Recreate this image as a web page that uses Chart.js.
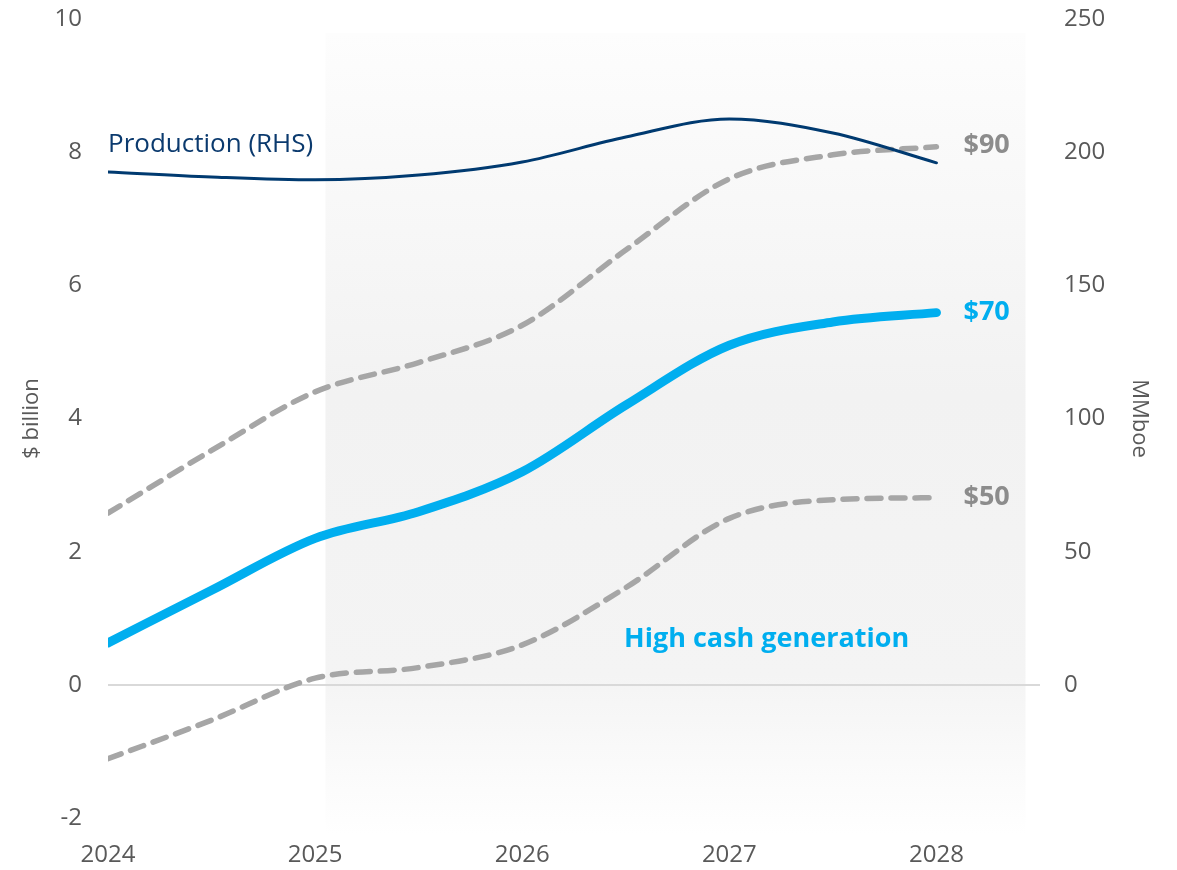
<!DOCTYPE html>
<html>
<head>
<meta charset="utf-8">
<script src="https://cdn.jsdelivr.net/npm/chart.js@4/dist/chart.umd.min.js"></script>
<style>
  html, body { margin: 0; padding: 0; background: #ffffff; }
  #wrap { width: 1177px; height: 870px; position: relative; }
</style>
</head>
<body>
<div id="wrap"><canvas id="c" width="1177" height="870"></canvas></div>
<script>
// ---- data ----
const years = [2024, 2024.5, 2025, 2025.5, 2026, 2026.5, 2027, 2027.5, 2028];
const cash90 = [2.58, 3.52, 4.40, 4.84, 5.40, 6.53, 7.60, 7.96, 8.08];
const cash70 = [0.63, 1.42, 2.20, 2.60, 3.20, 4.20, 5.10, 5.45, 5.59];
const cash50 = [-1.11, -0.53, 0.10, 0.26, 0.60, 1.46, 2.50, 2.78, 2.81];
const production = [192.6, 190.7, 189.6, 191.4, 196.3, 205.7, 212.5, 207.2, 196.0];
const xTicks = [2024, 2025, 2026, 2027, 2028];
const leftTicks = [-2, 0, 2, 4, 6, 8, 10];
const rightTicks = [0, 50, 100, 150, 200, 250];
const seriesLabels = ['$90', '$70', '$50'];
const noteText = 'High cash generation';
const productionLabel = 'Production (RHS)';

const FONT = "'Open Sans', 'Noto Sans', sans-serif";
const TICK = '#595959';

function pts(ys) { return years.map((x, i) => ({ x: x, y: ys[i] })); }

const shadePlugin = {
  id: 'shade',
  beforeDraw(chart) {
    const { ctx, scales } = chart;
    const x0 = scales.x.getPixelForValue(2025.05);
    const x1 = scales.x.getPixelForValue(2028.43);
    const y0 = 33, y1 = 835;
    const g = ctx.createLinearGradient(0, y0, 0, y1);
    g.addColorStop(0, '#fdfdfd');
    g.addColorStop(0.45, '#f2f2f2');
    g.addColorStop(0.8, '#f4f4f4');
    g.addColorStop(1, '#ffffff');
    ctx.save();
    ctx.fillStyle = g;
    ctx.fillRect(x0, y0, x1 - x0, y1 - y0);
    ctx.restore();
  }
};

const labelPlugin = {
  id: 'labels',
  afterDatasetsDraw(chart) {
    const { ctx, scales } = chart;
    const xs = scales.x, yl = scales.y;
    ctx.save();
    ctx.textBaseline = 'middle';
    ctx.textAlign = 'left';
    ctx.font = "bold 27px " + FONT;
    const lastX = xs.getPixelForValue(years[years.length - 1]) + 27;
    ctx.fillStyle = '#8c8c8c';
    ctx.fillText(seriesLabels[0], lastX, yl.getPixelForValue(cash90[cash90.length - 1]) - 2);
    ctx.fillStyle = '#00aeef';
    ctx.fillText(seriesLabels[1], lastX, yl.getPixelForValue(cash70[cash70.length - 1]));
    ctx.fillStyle = '#8c8c8c';
    ctx.fillText(seriesLabels[2], lastX, yl.getPixelForValue(cash50[cash50.length - 1]));
    ctx.fillStyle = '#00aeef';
    ctx.textAlign = 'center';
    ctx.fillText(noteText, xs.getPixelForValue(2027.18), yl.getPixelForValue(0.68));
    ctx.font = "26px " + FONT;
    ctx.fillStyle = '#0b3a6e';
    ctx.textAlign = 'left';
    ctx.fillText(productionLabel, xs.getPixelForValue(2024), yl.getPixelForValue(8.12));
    ctx.restore();
  }
};

new Chart(document.getElementById('c'), {
  type: 'line',
  data: {
    datasets: [
      { label: 'Production', data: pts(production), yAxisID: 'y2', borderColor: '#003a70', borderWidth: 3, pointRadius: 0, cubicInterpolationMode: 'monotone', fill: false, borderCapStyle: 'round' },
      { label: '$90', data: pts(cash90), yAxisID: 'y', borderColor: '#a6a6a6', borderWidth: 5.5, borderDash: [14, 10], borderCapStyle: 'round', pointRadius: 0, cubicInterpolationMode: 'monotone', fill: false },
      { label: '$50', data: pts(cash50), yAxisID: 'y', borderColor: '#a6a6a6', borderWidth: 5.5, borderDash: [14, 10], borderCapStyle: 'round', pointRadius: 0, cubicInterpolationMode: 'monotone', fill: false },
      { label: '$70', data: pts(cash70), yAxisID: 'y', borderColor: '#00aeef', borderWidth: 9, borderCapStyle: 'round', pointRadius: 0, cubicInterpolationMode: 'monotone', fill: false }
    ]
  },
  options: {
    responsive: false,
    animation: false,
    events: [],
    layout: { padding: { top: 19, right: 0, left: 0, bottom: 0 } },
    plugins: { legend: { display: false }, tooltip: { enabled: false } },
    scales: {
      x: {
        type: 'linear', min: 2024, max: 2028.5,
        afterBuildTicks(s) { s.ticks = xTicks.map(v => ({ value: v })); },
        ticks: { color: TICK, font: { family: FONT, size: 24 }, padding: 23, callback: v => String(v), maxRotation: 0 },
        grid: { display: false, drawTicks: false },
        border: { display: false },
        afterFit(s) { s.height = 52; s.paddingLeft = 0; s.paddingRight = 0; }
      },
      y: {
        position: 'left', min: -2, max: 10,
        afterBuildTicks(s) { s.ticks = leftTicks.map(v => ({ value: v })); },
        ticks: { color: TICK, font: { family: FONT, size: 24 }, padding: 26 },
        grid: { drawTicks: false, lineWidth: 2, color: c => (c.tick && c.tick.value === 0) ? '#d9d9d9' : 'rgba(0,0,0,0)' },
        border: { display: false },
        title: { display: true, text: '$ billion', color: TICK, font: { family: FONT, size: 22 }, padding: { top: 19, bottom: 0 } },
        afterFit(s) { s.width = 108; s.paddingTop = 0; s.paddingBottom = 0; }
      },
      y2: {
        position: 'right', min: -50, max: 250,
        afterBuildTicks(s) { s.ticks = rightTicks.map(v => ({ value: v })); },
        ticks: { color: TICK, font: { family: FONT, size: 24 }, padding: 24 },
        grid: { display: false, drawTicks: false },
        border: { display: false },
        title: { display: true, text: 'MMboe', color: TICK, font: { family: FONT, size: 22 }, padding: { top: 25, bottom: 0 } },
        afterFit(s) { s.width = 137; s.paddingTop = 0; s.paddingBottom = 0; }
      }
    }
  },
  plugins: [shadePlugin, labelPlugin]
});
</script>
</body>
</html>
